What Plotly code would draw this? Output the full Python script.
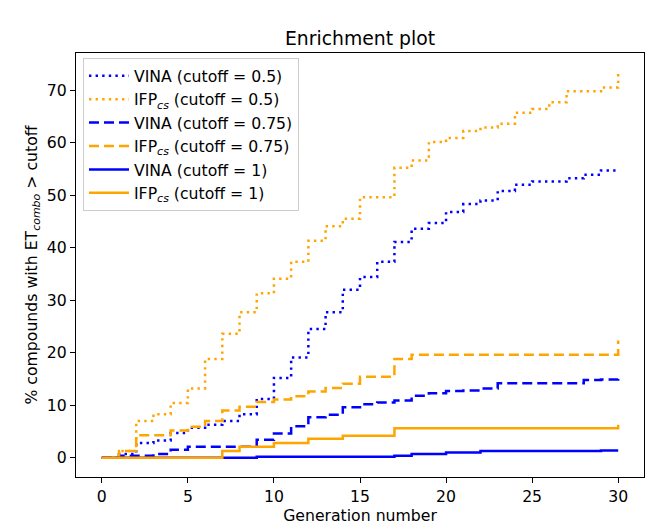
import plotly.graph_objects as go

# Generation index (x axis)
generation = list(range(31))

# % of compounds with ET_combo above the cutoff, per generation
vina_05 = [0, 0.7, 2.8, 3.3, 4.7, 5.7, 6.3, 7.0, 8.3, 11.2, 15.2, 19.1, 24.5, 27.7, 32.0, 34.4,
           37.3, 41.1, 43.6, 44.7, 46.8, 48.3, 49.0, 50.8, 52.0, 52.6, 52.6, 53.2, 53.9, 54.7, 54.8]
ifp_05 = [0, 1.3, 7.0, 8.3, 10.4, 13.2, 18.8, 23.6, 27.7, 31.3, 34.1, 37.3, 41.3, 44.1, 45.5, 49.6,
          49.6, 55.2, 56.6, 60.1, 60.9, 62.2, 62.9, 63.6, 65.7, 66.4, 67.7, 69.8, 69.8, 70.5, 73.4]
vina_075 = [0, 0.4, 0.4, 0.7, 1.5, 2.1, 2.1, 2.1, 2.1, 3.4, 4.6, 6.0, 7.7, 8.2, 9.6, 10.2,
            10.5, 10.9, 11.8, 12.3, 12.7, 12.8, 13.2, 14.2, 14.2, 14.2, 14.2, 14.2, 14.8, 14.9, 15.0]
ifp_075 = [0, 1.3, 4.3, 4.3, 5.2, 5.9, 7.0, 9.0, 9.7, 10.6, 11.1, 11.7, 12.6, 13.3, 14.1, 15.4,
           15.4, 18.8, 19.6, 19.6, 19.6, 19.6, 19.6, 19.6, 19.6, 19.6, 19.6, 19.6, 19.6, 19.6, 22.3]
vina_1 = [0, 0, 0, 0, 0, 0, 0, 0, 0, 0.2, 0.2, 0.2, 0.2, 0.2, 0.2, 0.2,
          0.2, 0.4, 0.7, 0.7, 1.0, 1.0, 1.3, 1.3, 1.3, 1.3, 1.3, 1.3, 1.3, 1.4, 1.4]
ifp_1 = [0, 0, 0, 0, 0, 0, 0, 1.3, 2.1, 2.1, 2.8, 2.8, 3.6, 3.6, 4.2, 4.2,
         4.2, 5.6, 5.6, 5.6, 5.6, 5.6, 5.6, 5.6, 5.6, 5.6, 5.6, 5.6, 5.6, 5.6, 6.3]

x_ticks = [0, 5, 10, 15, 20, 25, 30]
y_ticks = [0, 10, 20, 30, 40, 50, 60, 70]

BLUE = "#0000ff"
ORANGE = "#ffa500"
DOT = "2.4px,4.2px"
DASH = "10px,5px"
FONT = "DejaVu Sans"
IFP = "IFP<sub><i>cs</i></sub>"

series = [
    ("VINA (cutoff = 0.5)", vina_05, BLUE, DOT),
    (IFP + " (cutoff = 0.5)", ifp_05, ORANGE, DOT),
    ("VINA (cutoff = 0.75)", vina_075, BLUE, DASH),
    (IFP + " (cutoff = 0.75)", ifp_075, ORANGE, DASH),
    ("VINA (cutoff = 1)", vina_1, BLUE, "solid"),
    (IFP + " (cutoff = 1)", ifp_1, ORANGE, "solid"),
]

fig = go.Figure()
for name, values, color, dash in series:
    fig.add_trace(go.Scatter(
        x=generation, y=values, mode="lines", name=name,
        line=dict(shape="hv", color=color, width=2.5, dash=dash),
    ))

axis_common = dict(
    automargin=False,
    showline=True, linecolor="black", linewidth=1.2, mirror=True,
    ticks="outside", ticklen=5, tickwidth=1.2, tickcolor="black",
    showgrid=False, zeroline=False,
    tickfont=dict(family=FONT, size=15.7, color="black"),
)

fig.update_layout(
    width=652, height=525,
    margin=dict(l=76, r=8, t=53, b=48),
    paper_bgcolor="white", plot_bgcolor="white",
    font=dict(family=FONT, size=15.7, color="black"),
    title=dict(text="Enrichment plot", x=0.5, xref="paper", xanchor="center",
               y=1 - 38 / 525, yref="container", yanchor="middle",
               font=dict(family=FONT, size=18.8, color="black")),
    xaxis=dict(range=[-1.5, 31.5], tickvals=x_ticks,
               title=dict(text="Generation number", standoff=6,
                          font=dict(family=FONT, size=15.7, color="black")),
               **axis_common),
    yaxis=dict(range=[-3.67, 77.07], tickvals=y_ticks,
               title=dict(text="% compounds with ET<sub><i>combo</i></sub> &gt; cutoff", standoff=5,
                          font=dict(family=FONT, size=15.7, color="black")),
               **axis_common),
    legend=dict(x=0.0123, y=0.988, xanchor="left", yanchor="top",
                bgcolor="rgba(255,255,255,0.8)", bordercolor="#cccccc", borderwidth=1,
                font=dict(family=FONT, size=15.7, color="black"),
                itemwidth=40, tracegroupgap=0),
    showlegend=True,
)

fig.write_html("out.html")
